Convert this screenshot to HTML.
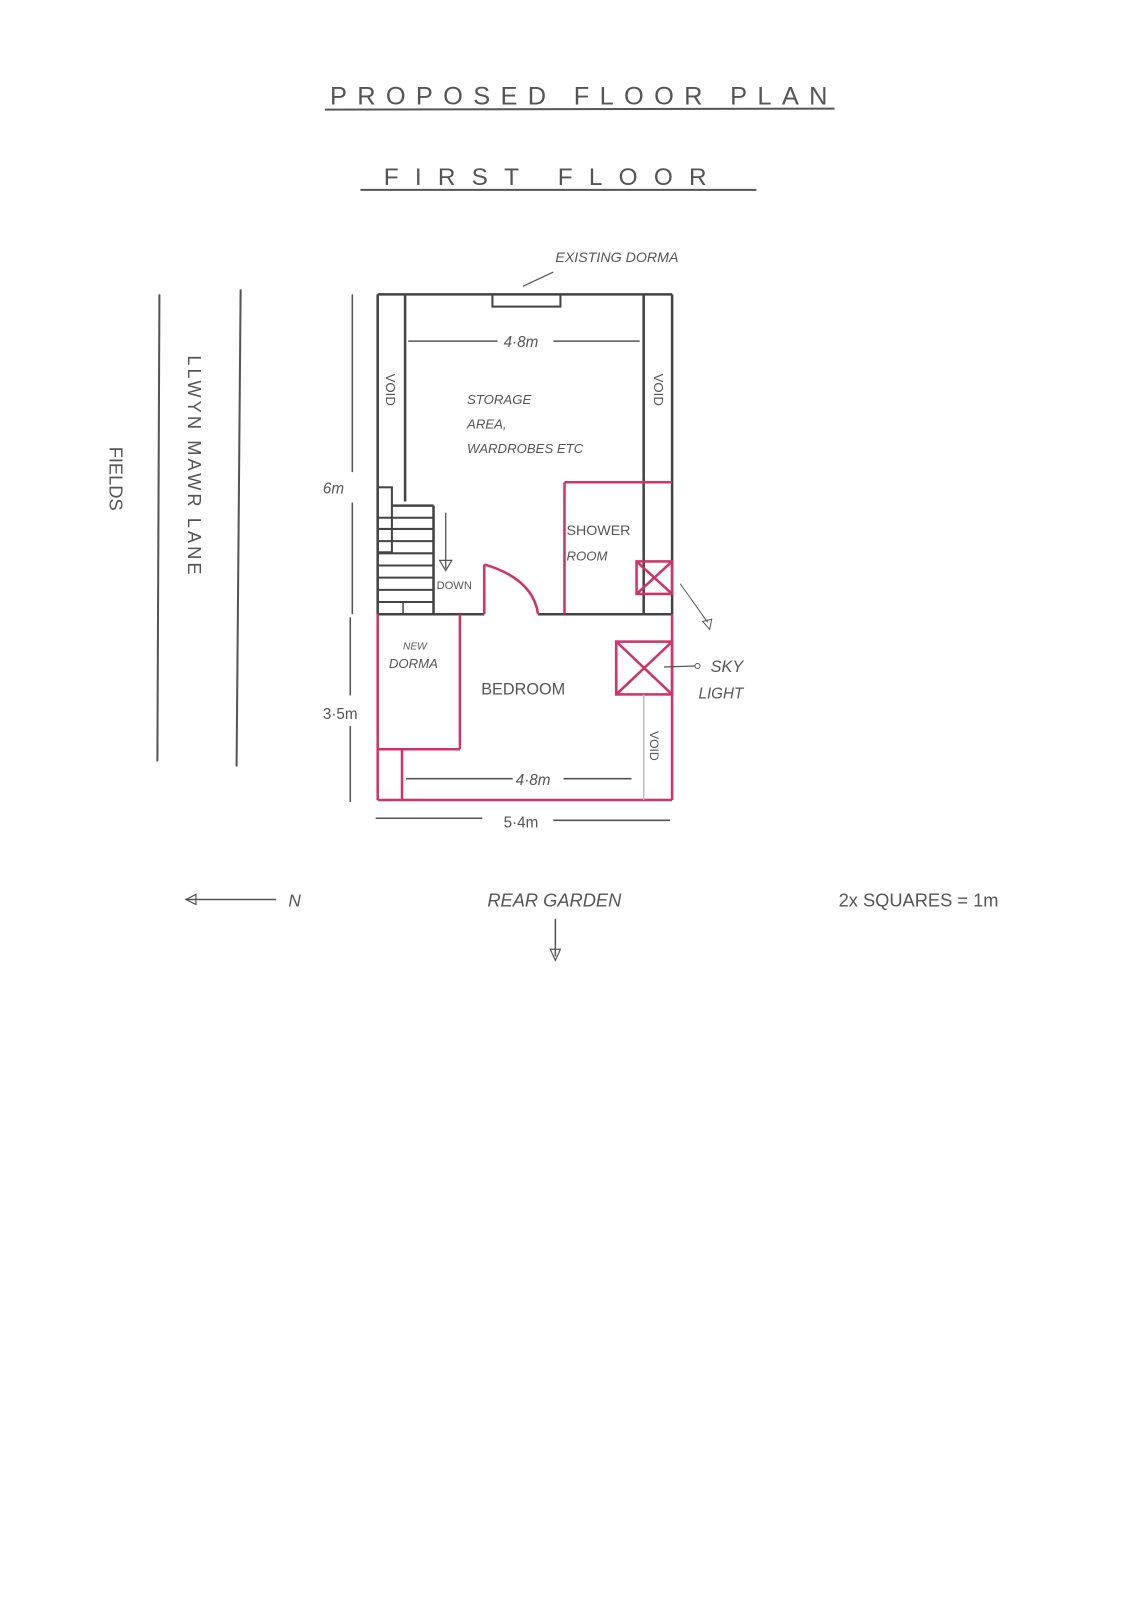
<!DOCTYPE html>
<html><head><meta charset="utf-8"><style>
html,body{margin:0;padding:0;background:#fff;}
svg{display:block;}
text{font-family:"Liberation Sans",sans-serif;fill:#555;}
</style></head><body>
<svg width="1130" height="1600" viewBox="0 0 1113 1576" xmlns="http://www.w3.org/2000/svg">
<rect width="1113" height="1576" fill="#fff"/>
<!-- titles -->
<text x="325" y="103" font-size="25" textLength="490" lengthAdjust="spacing">PROPOSED FLOOR PLAN</text>
<line x1="320" y1="108" x2="822" y2="107" stroke="#555" stroke-width="2"/>
<text x="378" y="182" font-size="24" textLength="318" lengthAdjust="spacing">FIRST FLOOR</text>
<line x1="355" y1="187" x2="745" y2="187" stroke="#555" stroke-width="2"/>
<text x="547" y="258" font-size="14" font-style="italic">EXISTING DORMA</text>
<line x1="515" y1="282" x2="545" y2="268" stroke="#555" stroke-width="1.2"/>

<!-- side lines -->
<line x1="157" y1="290" x2="155" y2="750" stroke="#555" stroke-width="2"/>
<line x1="237" y1="285" x2="233" y2="755" stroke="#555" stroke-width="2"/>
<text transform="translate(108,440) rotate(90)" font-size="18">FIELDS</text>
<text transform="translate(185,350) rotate(90)" font-size="18" letter-spacing="3">LLWYN MAWR LANE</text>

<!-- vertical dims -->
<line x1="347" y1="290" x2="347" y2="465" stroke="#555" stroke-width="1.5"/>
<line x1="347" y1="495" x2="347" y2="605" stroke="#555" stroke-width="1.5"/>
<line x1="345" y1="608" x2="345" y2="685" stroke="#555" stroke-width="1.5"/>
<line x1="345" y1="715" x2="345" y2="790" stroke="#555" stroke-width="1.5"/>
<text x="318" y="486" font-size="15" font-style="italic">6m</text>
<text x="318" y="708" font-size="15">3·5m</text>

<!-- black upper part -->
<g stroke="#444" stroke-width="2.5" fill="none">
<line x1="372" y1="290" x2="662" y2="290"/>
<line x1="372" y1="290" x2="372" y2="605"/>
<line x1="662" y1="290" x2="662" y2="605"/>
<line x1="399" y1="290" x2="399" y2="494"/>
<line x1="634" y1="290" x2="634" y2="605"/>
<rect x="485" y="290" width="67" height="12" stroke-width="2"/>
<line x1="372" y1="605" x2="477" y2="605"/>
<line x1="530" y1="605" x2="662" y2="605"/>
<!-- stairs -->
<rect x="372" y="480" width="14" height="64" stroke-width="2"/>
<line x1="386" y1="498" x2="427" y2="498"/>
<line x1="427" y1="498" x2="427" y2="605"/>
<line x1="372" y1="510" x2="427" y2="510" stroke-width="2"/>
<line x1="372" y1="521" x2="427" y2="521" stroke-width="2"/>
<line x1="372" y1="533" x2="427" y2="533" stroke-width="2"/>
<line x1="372" y1="545" x2="427" y2="545" stroke-width="2"/>
<line x1="372" y1="557" x2="427" y2="557" stroke-width="2"/>
<line x1="372" y1="569" x2="427" y2="569" stroke-width="2"/>
<line x1="372" y1="581" x2="427" y2="581" stroke-width="2"/>
<line x1="372" y1="593" x2="427" y2="593" stroke-width="2"/>
<line x1="397" y1="593" x2="397" y2="605" stroke-width="1.5"/>
</g>
<line x1="439" y1="505" x2="439" y2="560" stroke="#555" stroke-width="1.3"/>
<path d="M433 552 L445 552 L439 562 Z" fill="none" stroke="#555" stroke-width="1.2"/>
<text x="430" y="580" font-size="11">DOWN</text>

<!-- dims top -->
<line x1="402" y1="336" x2="490" y2="336" stroke="#555" stroke-width="1.5"/>
<line x1="545" y1="336" x2="630" y2="336" stroke="#555" stroke-width="1.5"/>
<text x="496" y="342" font-size="15" font-style="italic">4·8m</text>
<text transform="translate(380,368) rotate(90)" font-size="13">VOID</text>
<text transform="translate(644,368) rotate(90)" font-size="13">VOID</text>
<text x="460" y="398" font-size="13" font-style="italic">STORAGE</text>
<text x="460" y="422" font-size="13" font-style="italic">AREA,</text>
<text x="460" y="446" font-size="13" font-style="italic">WARDROBES ETC</text>

<!-- red parts -->
<g stroke="#d0336a" stroke-width="2.5" fill="none">
<line x1="556" y1="475" x2="662" y2="475"/>
<line x1="556" y1="475" x2="556" y2="605"/>
<line x1="477" y1="605" x2="477" y2="556"/>
<path d="M477 556 Q525 570 530 605"/>
<rect x="627" y="553" width="35" height="32"/>
<line x1="627" y1="553" x2="662" y2="585"/>
<line x1="662" y1="553" x2="627" y2="585"/>
<line x1="372" y1="605" x2="372" y2="788"/>
<line x1="662" y1="605" x2="662" y2="788"/>
<line x1="372" y1="788" x2="662" y2="788"/>
<line x1="453" y1="605" x2="453" y2="738"/>
<line x1="372" y1="738" x2="453" y2="738"/>
<line x1="396" y1="738" x2="396" y2="788"/>
<rect x="607" y="632" width="55" height="52"/>
<line x1="607" y1="632" x2="662" y2="684"/>
<line x1="662" y1="632" x2="607" y2="684"/>
</g>
<line x1="634" y1="684" x2="634" y2="788" stroke="#bbb" stroke-width="1.5"/>
<text x="558" y="527" font-size="14">SHOWER</text>
<text x="558" y="552" font-size="13" font-style="italic">ROOM</text>
<text x="397" y="640" font-size="10" font-style="italic">NEW</text>
<text x="383" y="658" font-size="13" font-style="italic">DORMA</text>
<text x="474" y="684" font-size="16">BEDROOM</text>
<text transform="translate(640,720) rotate(90)" font-size="12">VOID</text>
<line x1="400" y1="767" x2="505" y2="767" stroke="#555" stroke-width="1.5"/>
<line x1="555" y1="767" x2="622" y2="767" stroke="#555" stroke-width="1.5"/>
<text x="508" y="773" font-size="15" font-style="italic">4·8m</text>
<line x1="370" y1="806" x2="475" y2="806" stroke="#555" stroke-width="1.5"/>
<line x1="545" y1="808" x2="660" y2="808" stroke="#555" stroke-width="1.5"/>
<text x="496" y="815" font-size="15">5·4m</text>

<!-- skylight labels -->
<line x1="670" y1="575" x2="697" y2="613" stroke="#555" stroke-width="1"/>
<path d="M692 612 L701 610 L699 620 Z" fill="none" stroke="#555" stroke-width="1"/>
<line x1="654" y1="657" x2="684" y2="656" stroke="#555" stroke-width="1.2"/>
<circle cx="687" cy="656" r="2.5" fill="none" stroke="#555"/>
<text x="700" y="662" font-size="16" font-style="italic">SKY</text>
<text x="688" y="688" font-size="15" font-style="italic">LIGHT</text>

<!-- bottom -->
<line x1="183" y1="886" x2="272" y2="886" stroke="#555" stroke-width="1.5"/>
<path d="M183 886 L193 881 L193 891 Z" fill="none" stroke="#555" stroke-width="1.2"/>
<text x="284" y="893" font-size="17" font-style="italic">N</text>
<text x="480" y="893" font-size="18" font-style="italic">REAR GARDEN</text>
<line x1="547" y1="905" x2="547" y2="942" stroke="#555" stroke-width="1.5"/>
<path d="M542 935 L552 935 L547 946 Z" fill="none" stroke="#555" stroke-width="1.2"/>
<text x="826" y="893" font-size="18">2x SQUARES = 1m</text>
</svg>
</body></html>
